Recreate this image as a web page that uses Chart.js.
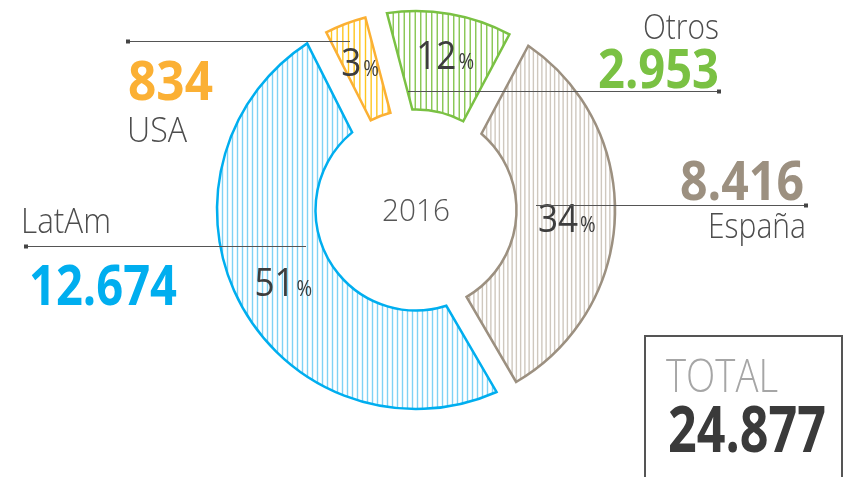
<!DOCTYPE html>
<html>
<head>
<meta charset="utf-8" />
<title>2016</title>
<script src="https://cdn.jsdelivr.net/npm/chart.js@4.4.1/dist/chart.umd.min.js"></script>
<style>
  body { margin: 0; background: #fff; }
  canvas { display: block; }
</style>
</head>
<body>
<canvas id="donut" width="854" height="477"></canvas>
<script>
    // data
    const regions = ['España', 'LatAm', 'USA', 'Otros'];
    const values = [8416, 12674, 834, 2953];
    const year = '2016';

    const lineColors = ['#9c9080', '#00aeef', '#fbb034', '#7ac143'];
    const stripeColors = ['#cfc8be', '#7fd2f5', '#ffc61e', '#86c650'];
    const stripeTiles = [[17, 4], [5, 1], [17, 3], [11, 2]];   // tile width, stripes per tile
    const GAP = 22;   // white gap between slices, px

    const total = values.reduce((a, b) => a + b, 0);
    const fmt = (n) => String(n).replace(/\B(?=(\d{3})+(?!\d))/g, '.');
    const FONT = '"Open Sans", "Noto Sans", sans-serif';

    function hatch(color, tile) {
        const c = document.createElement('canvas');
        c.width = tile[0]; c.height = 8;
        const g = c.getContext('2d');
        g.fillStyle = '#fff';
        g.fillRect(0, 0, c.width, c.height);
        g.strokeStyle = color;
        g.lineWidth = 1.4;
        for (let i = 0; i < tile[1]; i++) {
            const x = (i + 0.5) * tile[0] / tile[1];
            g.beginPath(); g.moveTo(x, 0); g.lineTo(x, c.height); g.stroke();
        }
        return g.createPattern(c, 'repeat');
    }

    // the gap on each boundary is cut out of the bigger of the two neighbours,
    // so the thin USA slice keeps its full angle
    function edgeShift(i) {
        const n = values.length;
        const prev = values[(i - 1 + n) % n], next = values[(i + 1) % n];
        return [values[i] > prev ? GAP : 0, values[i] > next ? GAP : 0];
    }

    function gapArcDraw(i) {
        return function (ctx) {
            const p = this.getProps(['x', 'y', 'startAngle', 'endAngle', 'innerRadius', 'outerRadius']);
            const o = this.options;
            const [hs, he] = edgeShift(i);
            const R = p.outerRadius, r = p.innerRadius;
            ctx.save();
            ctx.beginPath();
            ctx.arc(p.x, p.y, R, p.startAngle + Math.asin(hs / R), p.endAngle - Math.asin(he / R));
            const b1 = p.endAngle - Math.asin(he / r);
            ctx.lineTo(p.x + r * Math.cos(b1), p.y + r * Math.sin(b1));
            ctx.arc(p.x, p.y, r, b1, p.startAngle + Math.asin(hs / r), true);
            ctx.closePath();
            ctx.fillStyle = o.backgroundColor;
            ctx.fill();
            ctx.lineWidth = o.borderWidth;
            ctx.lineJoin = 'miter';
            ctx.strokeStyle = o.borderColor;
            ctx.stroke();
            ctx.restore();
        };
    }

    function text(ctx, s, x, y, font, color, align, maxW) {
        ctx.font = font;
        ctx.fillStyle = color;
        ctx.textAlign = align || 'left';
        ctx.textBaseline = 'alphabetic';
        if (maxW) ctx.fillText(s, x, y, maxW); else ctx.fillText(s, x, y);
    }

    function leader(ctx, x1, x2, y, squareAt) {
        ctx.strokeStyle = '#555';
        ctx.lineWidth = 1;
        ctx.beginPath(); ctx.moveTo(x1, y + 0.5); ctx.lineTo(x2, y + 0.5); ctx.stroke();
        ctx.fillStyle = '#444';
        ctx.fillRect(squareAt - 2, y - 1.5, 4, 4);
    }

    const gapArcs = {
        id: 'gapArcs',
        beforeDatasetsDraw(chart) {
            chart.getDatasetMeta(0).data.forEach((arc, i) => { arc.draw = gapArcDraw(i); });
        }
    };

    const labelsPlugin = {
        id: 'labels',
        afterDatasetsDraw(chart) {
            const ctx = chart.ctx;
            const arcs = chart.getDatasetMeta(0).data;
            ctx.save();
            // percentages inside the slices
            arcs.forEach((arc, i) => {
                const p = arc.getProps(['x', 'y', 'startAngle', 'endAngle'], true);
                const r = i === 0 || i === 1 ? 151 : 158;
                const [hs, he] = edgeShift(i);
                const mid = (p.startAngle + Math.asin(hs / r) + p.endAngle - Math.asin(he / r)) / 2;
                const cx = p.x + Math.cos(mid) * r;
                const cy = p.y + Math.sin(mid) * r;
                const num = String(Math.round(values[i] / total * 100));
                ctx.font = '400 39px ' + FONT;
                const w1 = ctx.measureText(num).width * 0.9;
                ctx.font = '400 21px ' + FONT;
                const w2 = ctx.measureText('%').width * 0.9;
                const x0 = cx - (w1 + w2 + 2) / 2;
                text(ctx, num, x0, cy + 14, '400 39px ' + FONT, '#3d3d3d', 'left', w1);
                text(ctx, '%', x0 + w1 + 2, cy + 14, '400 21px ' + FONT, '#3d3d3d', 'left', w2);
            });

            const c = arcs[0];
            text(ctx, year, c.x, c.y + 11, '300 31px ' + FONT, '#555', 'center', 68);

            // side labels and leaders
            leader(ctx, 128, 350, 41, 128);
            text(ctx, fmt(values[2]), 128, 100, '700 53px ' + FONT, lineColors[2], 'left', 85);
            text(ctx, regions[2], 127, 142, '300 34px ' + FONT, '#4d4d4d', 'left', 60);

            text(ctx, regions[3], 719, 39, '300 35px ' + FONT, '#4d4d4d', 'right', 76);
            text(ctx, fmt(values[3]), 719, 88, '700 53px ' + FONT, lineColors[3], 'right', 121);
            leader(ctx, 408, 719, 91, 719);

            text(ctx, fmt(values[0]), 804, 200, '700 53px ' + FONT, lineColors[0], 'right', 124);
            leader(ctx, 536, 806, 205, 806);
            text(ctx, regions[0], 806, 238, '300 34px ' + FONT, '#4d4d4d', 'right', 98);

            text(ctx, regions[1], 21, 233, '300 35px ' + FONT, '#4d4d4d', 'left', 90);
            leader(ctx, 26, 306, 246, 26);
            text(ctx, fmt(values[1]), 29, 305, '700 56px ' + FONT, lineColors[1], 'left', 148);

            // total box
            ctx.strokeStyle = '#555';
            ctx.lineWidth = 2;
            ctx.strokeRect(645, 336, 197, 150);
            text(ctx, 'TOTAL', 666, 392, '300 46px ' + FONT, '#a6a6a6', 'left', 112);
            text(ctx, fmt(total), 668, 452, '700 64px ' + FONT, '#3a3a3a', 'left', 158);
            ctx.restore();
        }
    };

    new Chart(document.getElementById('donut').getContext('2d'), {
        type: 'doughnut',
        data: {
            labels: regions,
            datasets: [{
                data: values,
                backgroundColor: stripeColors.map((col, i) => hatch(col, stripeTiles[i])),
                borderColor: lineColors,
                borderWidth: 2.5
            }]
        },
        options: {
            responsive: false,
            animation: false,
            events: [],
            rotation: 28,
            radius: 199,
            cutout: '50.5%',
            layout: { padding: { left: 216, right: 238, top: 10, bottom: 67 } },
            plugins: { legend: { display: false }, tooltip: { enabled: false } }
        },
        plugins: [gapArcs, labelsPlugin]
    });
</script>
</body>
</html>
